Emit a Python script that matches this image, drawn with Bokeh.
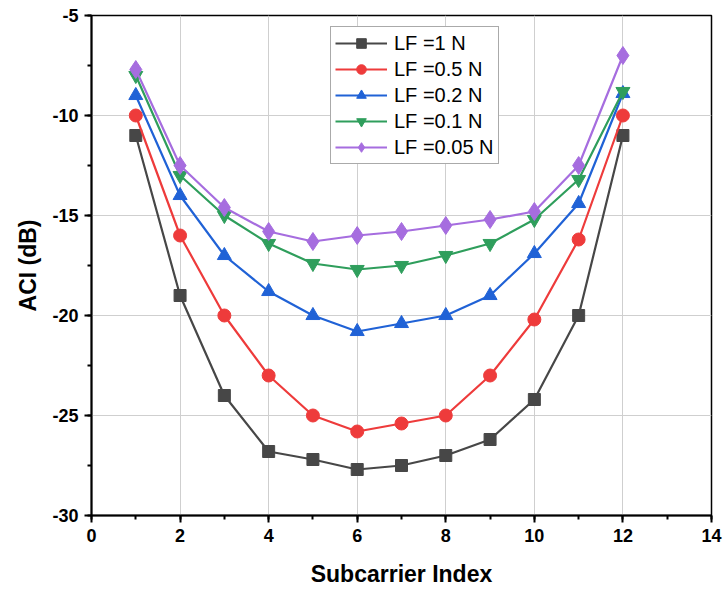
from bokeh.plotting import figure
from bokeh.embed import file_html
from bokeh.resources import INLINE
from bokeh.models import Range1d, SingleIntervalTicker, Legend, LegendItem, PrintfTickFormatter

subcarrier = [1, 2, 3, 4, 5, 6, 7, 8, 9, 10, 11, 12]
aci_lf_1 = [-11, -19, -24, -26.8, -27.2, -27.7, -27.5, -27, -26.2, -24.2, -20, -11]
aci_lf_05 = [-10, -16, -20, -23, -25, -25.8, -25.4, -25, -23, -20.2, -16.2, -10]
aci_lf_02 = [-9, -14, -17, -18.8, -20, -20.8, -20.4, -20, -19, -16.9, -14.4, -8.9]
aci_lf_01 = [-8, -13, -15, -16.4, -17.4, -17.7, -17.5, -17, -16.4, -15.2, -13.2, -8.8]
aci_lf_005 = [-7.7, -12.5, -14.6, -15.8, -16.3, -16.0, -15.8, -15.5, -15.2, -14.8, -12.5, -7.0]
series_labels = ["LF =1 N", "LF =0.5 N", "LF =0.2 N", "LF =0.1 N", "LF =0.05 N"]

series = [aci_lf_1, aci_lf_05, aci_lf_02, aci_lf_01, aci_lf_005]
colors = ["#474747", "#ee3b3b", "#2062d6", "#2f9e5c", "#a66ddf"]
markers = ["square", "circle", "triangle", "inverted_triangle", "diamond"]
sizes = [12, 13, 14, 14, 18]

p = figure(width=724, height=594, output_backend="svg", toolbar_location=None,
           x_range=Range1d(0, 14), y_range=Range1d(-30, -5),
           min_border_left=91, min_border_right=13, min_border_top=15, min_border_bottom=79)
p.background_fill_color = "white"
p.border_fill_color = "white"
p.outline_line_color = "black"
p.outline_line_width = 1.5

p.xaxis.ticker = SingleIntervalTicker(interval=2, num_minor_ticks=2)
p.yaxis.ticker = SingleIntervalTicker(interval=5, num_minor_ticks=2)
p.xaxis.formatter = PrintfTickFormatter(format="%d")
p.yaxis.formatter = PrintfTickFormatter(format="%d")

for ax in (p.xaxis[0], p.yaxis[0]):
    ax.axis_line_width = 2
    ax.axis_line_color = "black"
    ax.major_tick_line_width = 2
    ax.minor_tick_line_width = 2
    ax.major_tick_out = 7
    ax.major_tick_in = 0
    ax.minor_tick_out = 4
    ax.minor_tick_in = 0
    ax.major_label_text_font = "Liberation Sans"
    ax.major_label_text_font_style = "bold"
    ax.major_label_text_font_size = "18px"
    ax.major_label_text_color = "black"
    ax.axis_label_text_font = "Liberation Sans"
    ax.axis_label_text_font_style = "bold"
    ax.axis_label_text_font_size = "23px"
    ax.axis_label_text_color = "black"

p.xaxis.axis_label = "Subcarrier Index"
p.yaxis.axis_label = "ACI (dB)"
p.xaxis.major_label_standoff = 6
p.yaxis.major_label_standoff = 6
p.xaxis.axis_label_standoff = 16
p.yaxis.axis_label_standoff = 8

p.xgrid.grid_line_color = "#cfcfcf"
p.ygrid.grid_line_color = "#cfcfcf"
p.xgrid.grid_line_width = 1
p.ygrid.grid_line_width = 1

items = []
for ys, c, m, s, lab in zip(series, colors, markers, sizes, series_labels):
    r1 = p.line(subcarrier, ys, line_color=c, line_width=2.2)
    r2 = p.scatter(subcarrier, ys, marker=m, size=s, fill_color=c, line_color=c)
    items.append(LegendItem(label=lab, renderers=[r1, r2]))

legend = Legend(items=items, location=(239, 351))
legend.label_text_font = "Liberation Sans"
legend.label_text_font_size = "20px"
legend.label_text_color = "black"
legend.label_height = 24
legend.glyph_height = 24
legend.glyph_width = 52
legend.label_standoff = 7
legend.spacing = 2
legend.padding = 4
legend.margin = 0
legend.border_line_color = "#555555"
legend.border_line_width = 1
legend.background_fill_color = "white"
legend.background_fill_alpha = 1
p.add_layout(legend, "center")

open("out.html", "w").write(file_html(p, INLINE))
